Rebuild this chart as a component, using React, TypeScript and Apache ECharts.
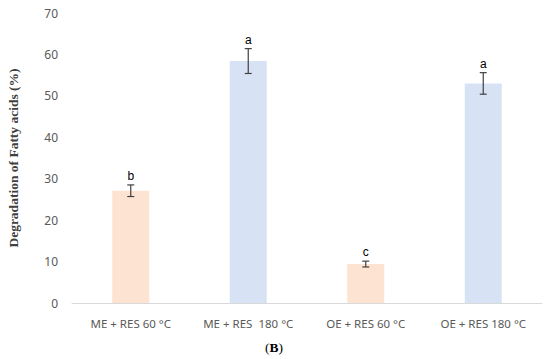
import React, { useEffect, useRef } from "react";
import * as echarts from "echarts";

const categories = ["ME + RES 60 °C", "ME + RES  180 °C", "OE + RES 60 °C", "OE + RES 180 °C"];
const values = [27.1, 58.4, 9.4, 53.0];
const errors = [1.4, 3.0, 0.7, 2.6];
const letters = ["b", "a", "c", "a"];
const barColors = ["#fde4d2", "#d7e3f5", "#fde4d2", "#d7e3f5"];
const yTicks = { min: 0, max: 70, interval: 10 };

export default function App() {
  const ref = useRef<HTMLDivElement>(null);
  useEffect(() => {
    document.body.style.margin = "0";
    const chart = echarts.init(ref.current!, null, { renderer: "svg" });
    chart.setOption({
      animation: false,
      grid: { left: 72, right: 8, top: 13, bottom: 56 },
      xAxis: {
        type: "category",
        data: categories,
        axisLine: { lineStyle: { color: "#d9d9d9", width: 1 } },
        axisTick: { show: false },
        axisLabel: { color: "#595959", fontFamily: "Noto Sans", fontSize: 11.5, margin: 14 },
      },
      yAxis: {
        type: "value",
        min: yTicks.min,
        max: yTicks.max,
        interval: yTicks.interval,
        splitLine: { show: false },
        axisLine: { show: false },
        axisTick: { show: false },
        axisLabel: { color: "#595959", fontFamily: "Noto Sans", fontSize: 12, margin: 14 },
      },
      graphic: [
        {
          type: "text",
          x: 13,
          y: 158,
          rotation: Math.PI / 2,
          style: {
            text: "Degradation of Fatty acids (%)",
            fontFamily: "Liberation Serif",
            fontWeight: "bold",
            fontSize: 13.5,
            fill: "#404040",
            align: "center",
            verticalAlign: "middle",
          },
        },
        {
          type: "text",
          x: 274,
          y: 347,
          style: {
            text: "({b|B})",
            rich: { b: { fontFamily: "Liberation Serif", fontWeight: "bold", fontSize: 13.5, fill: "#000" } },
            fontFamily: "Liberation Serif",
            fontSize: 13.5,
            fill: "#000",
            align: "center",
            verticalAlign: "middle",
          },
        },
      ],
      series: [
        {
          type: "bar",
          barWidth: "31.5%",
          z: 1,
          data: values.map((v, i) => ({ value: v, itemStyle: { color: barColors[i] } })),
        },
        {
          type: "custom",
          z: 5,
          data: values.map((v, i) => [i, v, errors[i]]),
          renderItem: (params: any, api: any) => {
            const x = api.value(0);
            const v = api.value(1);
            const e = api.value(2);
            const top = api.coord([x, v + e]);
            const bot = api.coord([x, v - e]);
            const hw = 3.5;
            const st = { stroke: "#404040", lineWidth: 1.2 };
            return {
              type: "group",
              children: [
                { type: "line", shape: { x1: top[0], y1: top[1], x2: bot[0], y2: bot[1] }, style: st },
                { type: "line", shape: { x1: top[0] - hw, y1: top[1], x2: top[0] + hw, y2: top[1] }, style: st },
                { type: "line", shape: { x1: bot[0] - hw, y1: bot[1], x2: bot[0] + hw, y2: bot[1] }, style: st },
                {
                  type: "text",
                  x: top[0],
                  y: top[1] - 3,
                  style: {
                    text: letters[params.dataIndex],
                    fontFamily: "Liberation Sans",
                    fontSize: 12,
                    fill: "#000",
                    align: "center",
                    verticalAlign: "bottom",
                  },
                },
              ],
            };
          },
        },
      ],
    });
    return () => chart.dispose();
  }, []);
  return <div ref={ref} style={{ width: 550, height: 359 }} />;
}
